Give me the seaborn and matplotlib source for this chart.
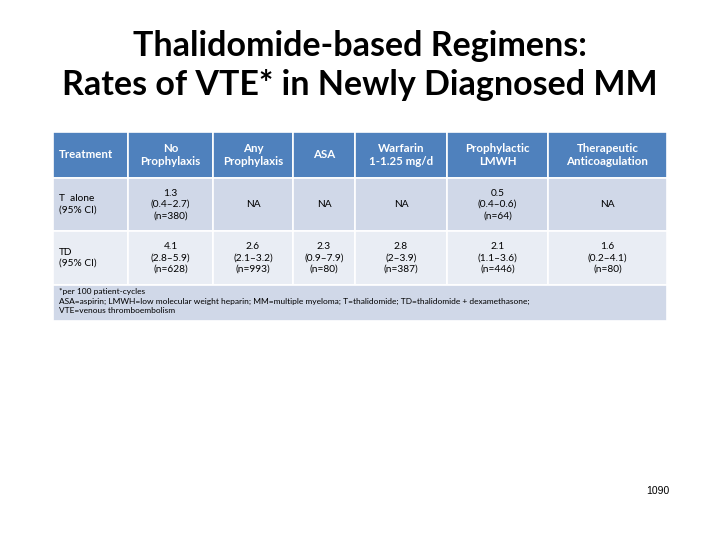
import matplotlib
matplotlib.use("Agg")
import matplotlib.pyplot as plt
from matplotlib.patches import Rectangle
import seaborn as sns

sns.set_theme(style="white", font="Lato")

title_lines = ["Thalidomide-based Regimens:", "Rates of VTE* in Newly Diagnosed MM"]
headers = ["Treatment", "No\nProphylaxis", "Any\nProphylaxis", "ASA", "Warfarin\n1-1.25 mg/d",
           "Prophylactic\nLMWH", "Therapeutic\nAnticoagulation"]
row_labels = ["T  alone\n(95% CI)", "TD\n(95% CI)"]
t_alone = ["1.3\n(0.4\u20132.7)\n(n=380)", "NA", "NA", "NA", "0.5\n(0.4\u20130.6)\n(n=64)", "NA"]
td = ["4.1\n(2.8\u20135.9)\n(n=628)", "2.6\n(2.1\u20133.2)\n(n=993)", "2.3\n(0.9\u20137.9)\n(n=80)",
      "2.8\n(2\u20133.9)\n(n=387)", "2.1\n(1.1\u20133.6)\n(n=446)", "1.6\n(0.2\u20134.1)\n(n=80)"]
footnote = ("*per 100 patient-cycles\n"
            "ASA=aspirin; LMWH=low molecular weight heparin; MM=multiple myeloma; T=thalidomide; "
            "TD=thalidomide + dexamethasone;\nVTE=venous thromboembolism")
page_number = "1090"

col_edges = [53, 128, 213, 293, 355, 447, 548, 667]
row_edges = [132, 178, 231, 285, 321]
header_color = "#4F81BD"
row_colors = ["#D0D8E8", "#E9EDF4"]

fig = plt.figure(figsize=(7.2, 5.4), dpi=100)
ax = fig.add_axes([0, 0, 1, 1])
ax.set_xlim(0, 720)
ax.set_ylim(540, 0)
ax.axis("off")

for i, line in enumerate(title_lines):
    ax.text(360, 46 + i * 39, line, ha="center", va="center", fontsize=24.5,
            fontweight="bold", color="black")

rows = [headers, [row_labels[0]] + t_alone, [row_labels[1]] + td]
for r, cells in enumerate(rows):
    y0, y1 = row_edges[r], row_edges[r + 1]
    fill = header_color if r == 0 else row_colors[r - 1]
    for c, txt in enumerate(cells):
        x0, x1 = col_edges[c], col_edges[c + 1]
        ax.add_patch(Rectangle((x0, y0), x1 - x0, y1 - y0, facecolor=fill,
                               edgecolor="white", linewidth=1.2))
        size = 8.3 if r == 0 else 7.3
        if c == 0:
            ax.text(x0 + 6, (y0 + y1) / 2, txt, ha="left", va="center", fontsize=size,
                    color="white" if r == 0 else "black",
                    fontweight="bold" if r == 0 else "normal", linespacing=1.3)
        else:
            ax.text((x0 + x1) / 2, (y0 + y1) / 2, txt, ha="center", va="center",
                    fontsize=size, color="white" if r == 0 else "black",
                    fontweight="bold" if r == 0 else "normal", linespacing=1.3)

ax.add_patch(Rectangle((col_edges[0], row_edges[3]), col_edges[-1] - col_edges[0],
                       row_edges[4] - row_edges[3], facecolor=row_colors[0],
                       edgecolor="white", linewidth=1.2))
ax.text(col_edges[0] + 6, row_edges[3] + 3, footnote, ha="left", va="top", fontsize=6,
        color="black", linespacing=1.45)

ax.text(658, 491, page_number, ha="center", va="center", fontsize=7.5,
        family="Liberation Sans", color="black")

fig.savefig("out.png", dpi=100)
